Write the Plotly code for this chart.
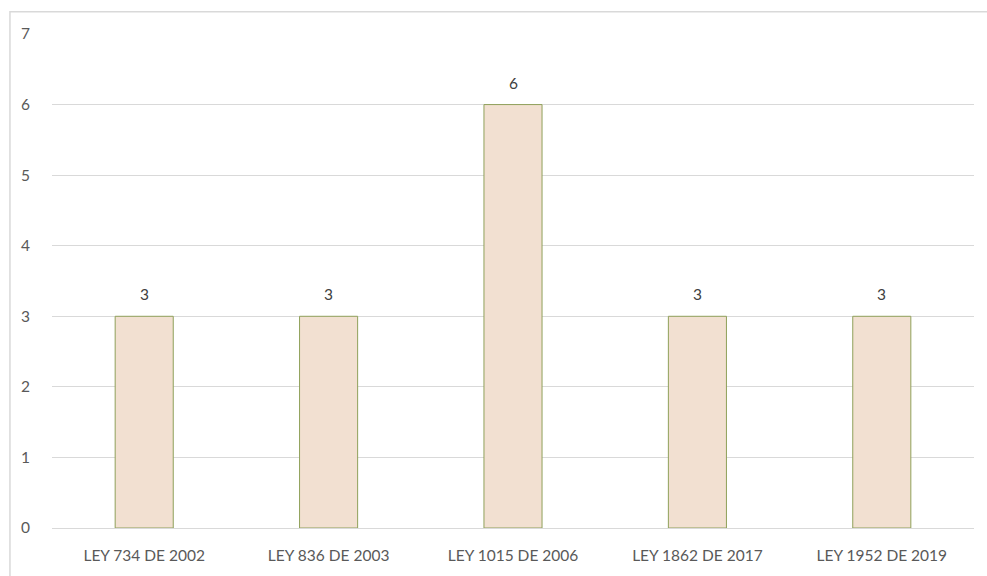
import plotly.graph_objects as go

# Number of articles per law
categories = ["LEY 734 DE 2002", "LEY 836 DE 2003", "LEY 1015 DE 2006",
              "LEY 1862 DE 2017", "LEY 1952 DE 2019"]
values = [3, 3, 6, 3, 3]
y_ticks = [0, 1, 2, 3, 4, 5, 6, 7]

FONT = "Lato, 'Open Sans', sans-serif"
TEXT_COLOR = "#595959"

fig = go.Figure()
fig.add_trace(go.Bar(
    x=categories,
    y=values,
    width=0.315,
    marker=dict(color="#F2E0D1", line=dict(color="#8FA05A", width=1)),
    hoverinfo="skip",
))

# Value labels above each bar
for c, v in zip(categories, values):
    fig.add_annotation(x=c, y=v, text=str(v), showarrow=False,
                       yanchor="bottom", yshift=11,
                       font=dict(family=FONT, size=15.5, color="#404040"))

# Outer chart frame
fig.add_shape(type="rect", xref="paper", yref="paper",
              x0=-0.0456, x1=1.2, y0=-0.2, y1=1.045,
              line=dict(color="#D9D9D9", width=1.5), layer="below")

fig.update_layout(
    width=987, height=576,
    margin=dict(l=52, r=13, t=34, b=45),
    paper_bgcolor="white",
    plot_bgcolor="white",
    showlegend=False,
    font=dict(family=FONT, size=15.5, color=TEXT_COLOR),
    bargap=0.685,
)
fig.update_xaxes(
    showgrid=False, showline=True, linecolor="#D9D9D9", linewidth=1,
    tickfont=dict(family=FONT, size=15.5, color=TEXT_COLOR),
    ticks="", ticklabelstandoff=13,
)
fig.update_yaxes(
    range=[0, 7], tickvals=y_ticks, showgrid=True, gridcolor="#D9D9D9",
    gridwidth=1, zeroline=False, showline=False, ticks="",
    tickfont=dict(family=FONT, size=15.5, color=TEXT_COLOR),
    ticklabelstandoff=21,
)

fig.write_html("out.html")
